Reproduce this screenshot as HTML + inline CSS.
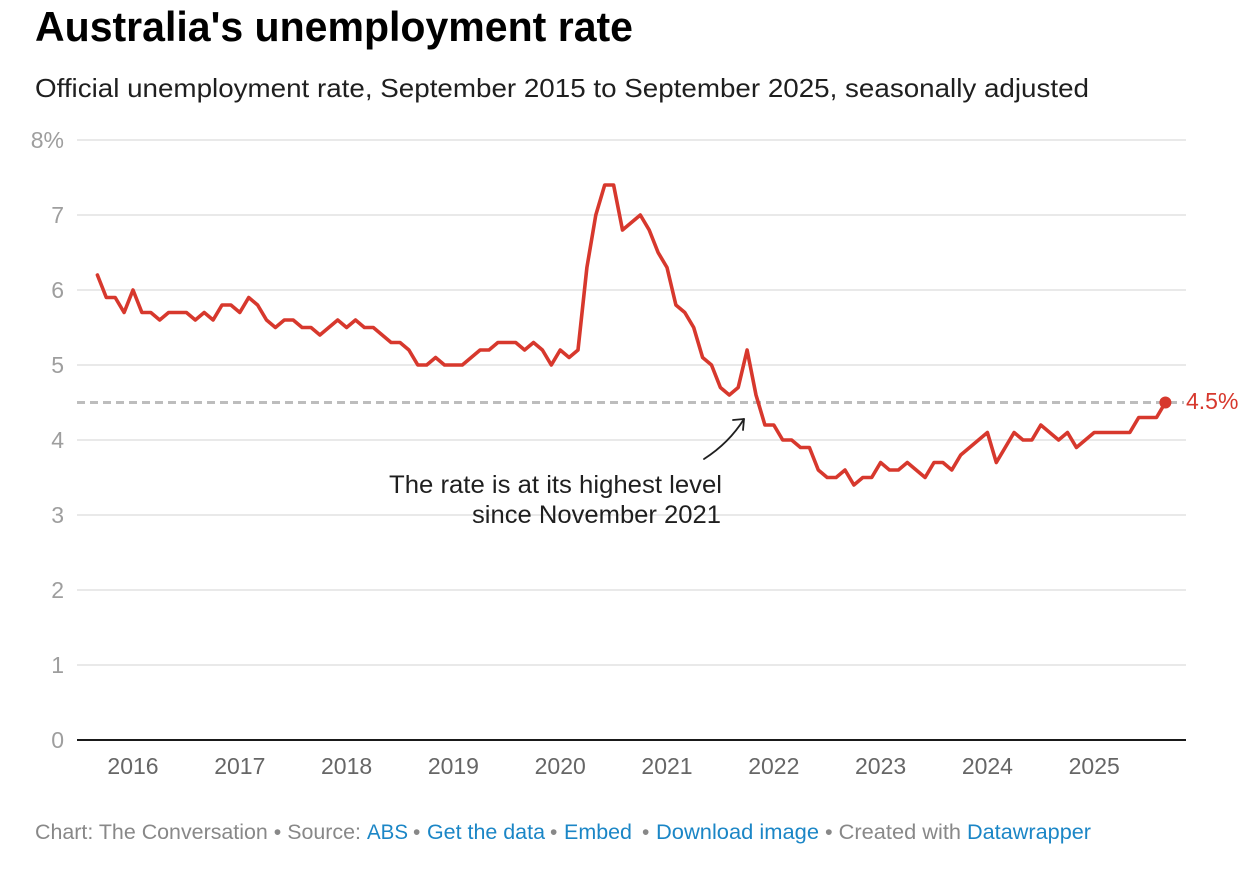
<!DOCTYPE html>
<html>
<head>
<meta charset="utf-8">
<style>
  html, body { margin: 0; padding: 0; background: #ffffff; }
  body { width: 1256px; height: 872px; overflow: hidden; }
  svg { display: block; font-family: "Liberation Sans", Arial, sans-serif; }
</style>
</head>
<body>
<svg width="1256" height="872" viewBox="0 0 1256 872" xmlns="http://www.w3.org/2000/svg">
  <rect width="1256" height="872" fill="#ffffff"/>

  <!-- Title & subtitle -->
  <text x="35" y="41" font-size="42" font-weight="bold" fill="#000000" textLength="598" lengthAdjust="spacingAndGlyphs">Australia's unemployment rate</text>
  <text x="35" y="97" font-size="26" fill="#1f1f1f" textLength="1054" lengthAdjust="spacingAndGlyphs">Official unemployment rate, September 2015 to September 2025, seasonally adjusted</text>

  <!-- Gridlines -->
  <g stroke="#e2e2e2" stroke-width="1.5">
    <line x1="77" y1="140" x2="1186" y2="140"/>
    <line x1="77" y1="215" x2="1186" y2="215"/>
    <line x1="77" y1="290" x2="1186" y2="290"/>
    <line x1="77" y1="365" x2="1186" y2="365"/>
    <line x1="77" y1="440" x2="1186" y2="440"/>
    <line x1="77" y1="515" x2="1186" y2="515"/>
    <line x1="77" y1="590" x2="1186" y2="590"/>
    <line x1="77" y1="665" x2="1186" y2="665"/>
  </g>
  <line x1="77" y1="740" x2="1186" y2="740" stroke="#1a1a1a" stroke-width="2"/>

  <!-- Y labels -->
  <g font-size="23" fill="#9e9e9e" text-anchor="end">
    <text x="64" y="148">8%</text>
    <text x="64" y="223">7</text>
    <text x="64" y="298">6</text>
    <text x="64" y="373">5</text>
    <text x="64" y="448">4</text>
    <text x="64" y="523">3</text>
    <text x="64" y="598">2</text>
    <text x="64" y="673">1</text>
    <text x="64" y="748">0</text>
  </g>

  <!-- X labels -->
  <g font-size="23" fill="#666666" text-anchor="middle">
    <text x="133" y="774">2016</text>
    <text x="239.8" y="774">2017</text>
    <text x="346.6" y="774">2018</text>
    <text x="453.4" y="774">2019</text>
    <text x="560.2" y="774">2020</text>
    <text x="667" y="774">2021</text>
    <text x="773.8" y="774">2022</text>
    <text x="880.6" y="774">2023</text>
    <text x="987.4" y="774">2024</text>
    <text x="1094.2" y="774">2025</text>
  </g>

  <!-- Reference dashed line at 4.5 -->
  <line x1="77" y1="402.5" x2="1184" y2="402.5" stroke="#bdbdbd" stroke-width="3" stroke-dasharray="8 5"/>

  <!-- Data line -->
  <g transform="translate(97.4,740) scale(8.9,-75)">
    <polyline fill="none" stroke="#d7382d" stroke-width="3.6" stroke-linejoin="round" stroke-linecap="round" vector-effect="non-scaling-stroke"
      points="0,6.2 1,5.9 2,5.9 3,5.7 4,6.0 5,5.7 6,5.7 7,5.6 8,5.7 9,5.7 10,5.7 11,5.6 12,5.7 13,5.6 14,5.8 15,5.8 16,5.7 17,5.9 18,5.8 19,5.6 20,5.5 21,5.6 22,5.6 23,5.5 24,5.5 25,5.4 26,5.5 27,5.6 28,5.5 29,5.6 30,5.5 31,5.5 32,5.4 33,5.3 34,5.3 35,5.2 36,5.0 37,5.0 38,5.1 39,5.0 40,5.0 41,5.0 42,5.1 43,5.2 44,5.2 45,5.3 46,5.3 47,5.3 48,5.2 49,5.3 50,5.2 51,5.0 52,5.2 53,5.1 54,5.2 55,6.3 56,7.0 57,7.4 58,7.4 59,6.8 60,6.9 61,7.0 62,6.8 63,6.5 64,6.3 65,5.8 66,5.7 67,5.5 68,5.1 69,5.0 70,4.7 71,4.6 72,4.7 73,5.2 74,4.6 75,4.2 76,4.2 77,4.0 78,4.0 79,3.9 80,3.9 81,3.6 82,3.5 83,3.5 84,3.6 85,3.4 86,3.5 87,3.5 88,3.7 89,3.6 90,3.6 91,3.7 92,3.6 93,3.5 94,3.7 95,3.7 96,3.6 97,3.8 98,3.9 99,4.0 100,4.1 101,3.7 102,3.9 103,4.1 104,4.0 105,4.0 106,4.2 107,4.1 108,4.0 109,4.1 110,3.9 111,4.0 112,4.1 113,4.1 114,4.1 115,4.1 116,4.1 117,4.3 118,4.3 119,4.3 120,4.5"/>
  </g>

  <!-- End dot and label -->
  <circle cx="1165.4" cy="402.5" r="6" fill="#d7382d"/>
  <text x="1186" y="409" font-size="23" fill="#d7382d">4.5%</text>

  <!-- Annotation -->
  <path d="M704,459 Q729,443 744,419" fill="none" stroke="#1f1f1f" stroke-width="1.8" stroke-linecap="round"/>
  <path d="M733,420 L744,419 L743,430" fill="none" stroke="#1f1f1f" stroke-width="1.8" stroke-linecap="round" stroke-linejoin="round"/>
  <g font-size="25" fill="#1f1f1f" text-anchor="end">
    <text x="722" y="493" textLength="333" lengthAdjust="spacingAndGlyphs">The rate is at its highest level</text>
    <text x="721" y="523" textLength="249" lengthAdjust="spacingAndGlyphs">since November 2021</text>
  </g>

  <!-- Footer -->
  <g font-size="21">
    <text x="35" y="839" fill="#888888" textLength="326" lengthAdjust="spacingAndGlyphs">Chart: The Conversation • Source:</text>
    <text x="367" y="839" fill="#1b86c6" textLength="41" lengthAdjust="spacingAndGlyphs">ABS</text>
    <text x="413" y="839" fill="#888888">•</text>
    <text x="427" y="839" fill="#1b86c6" textLength="118" lengthAdjust="spacingAndGlyphs">Get the data</text>
    <text x="550" y="839" fill="#888888">•</text>
    <text x="564" y="839" fill="#1b86c6" textLength="68" lengthAdjust="spacingAndGlyphs">Embed</text>
    <text x="642" y="839" fill="#888888">•</text>
    <text x="656" y="839" fill="#1b86c6" textLength="163" lengthAdjust="spacingAndGlyphs">Download image</text>
    <text x="825" y="839" fill="#888888" textLength="136" lengthAdjust="spacingAndGlyphs">• Created with</text>
    <text x="967" y="839" fill="#1b86c6" textLength="124" lengthAdjust="spacingAndGlyphs">Datawrapper</text>
  </g>
</svg>
</body>
</html>
